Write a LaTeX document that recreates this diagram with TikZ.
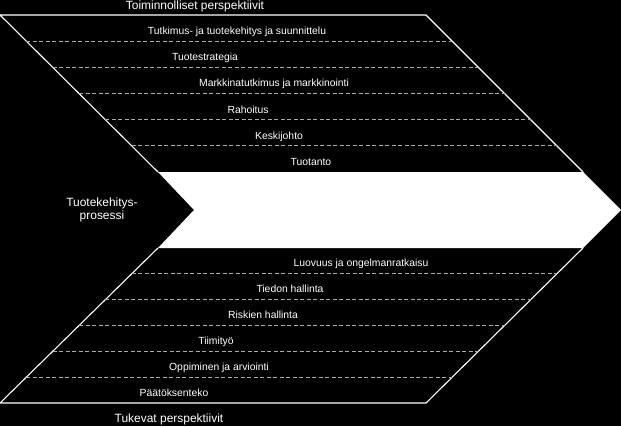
\documentclass[tikz,border=0pt]{standalone}
\usepackage{fontspec}
\setmainfont{Liberation Sans}
\usetikzlibrary{calc}

\begin{document}
\begin{tikzpicture}[
    x=1bp, y=-1bp,
    edge/.style={draw=white, line width=1.1bp},
    band/.style={draw=gray!65, line width=0.8bp, dash pattern=on 4bp off 2.5bp},
    lbl/.style={text=white, font=\fontsize{10.4}{12}\selectfont, inner sep=0pt, anchor=mid},
    title/.style={text=white, font=\fontsize{12}{13.5}\selectfont, inner sep=0pt, align=center}
]
\useasboundingbox (0,0) rectangle (621,426);
\fill[black] (0,0) rectangle (621,426);

% Corners
\coordinate (tl) at (0,15);
\coordinate (tr) at (426,15);
\coordinate (ml) at (158,172);
\coordinate (mr) at (583,172);
\coordinate (nl) at (158,248);
\coordinate (nr) at (583,248);
\coordinate (bl) at (0,403);
\coordinate (br) at (426,403);

% Process arrow
\fill[white] (ml) -- (mr) -- (621,210) -- (nr) -- (nl) -- (194,210) -- cycle;

% Outlines
\draw[edge] (ml) -- (tl) -- (tr) -- (mr);
\draw[edge] (nl) -- (bl) -- (br) -- (nr);

% Dashed dividers
\foreach \i in {1,...,5} {
  \draw[band] ($(tl)!\i/6!(ml)$) -- ($(tr)!\i/6!(mr)$);
  \draw[band] ($(nl)!\i/6!(bl)$) -- ($(nr)!\i/6!(br)$);
}

% Titles
\node[title] (func) at (195,6) {Toiminnolliset perspektiivit};
\node[title] (supp) at (169,419) {Tukevat perspektiivit};
\node[title] (proc) at (102,210) {Tuotekehitys-\\prosessi};

% Operational perspectives
\node[lbl] (rnd)  at (237,32)  {Tutkimus- ja tuotekehitys ja suunnittelu};
\node[lbl] (strat) at (205,58) {Tuotestrategia};
\node[lbl] (mark) at (274,84)  {Markkinatutkimus ja markkinointi};
\node[lbl] (fin)  at (248,111) {Rahoitus};
\node[lbl] (mgmt) at (279,137) {Keskijohto};
\node[lbl] (prod) at (311,163) {Tuotanto};

% Supporting perspectives
\node[lbl] (crea) at (361,264) {Luovuus ja ongelmanratkaisu};
\node[lbl] (know) at (290,290) {Tiedon hallinta};
\node[lbl] (risk) at (263,316) {Riskien hallinta};
\node[lbl] (team) at (216,342) {Tiimityö};
\node[lbl] (learn) at (219,368) {Oppiminen ja arviointi};
\node[lbl] (dec)  at (174,394) {Päätöksenteko};
\end{tikzpicture}
\end{document}
